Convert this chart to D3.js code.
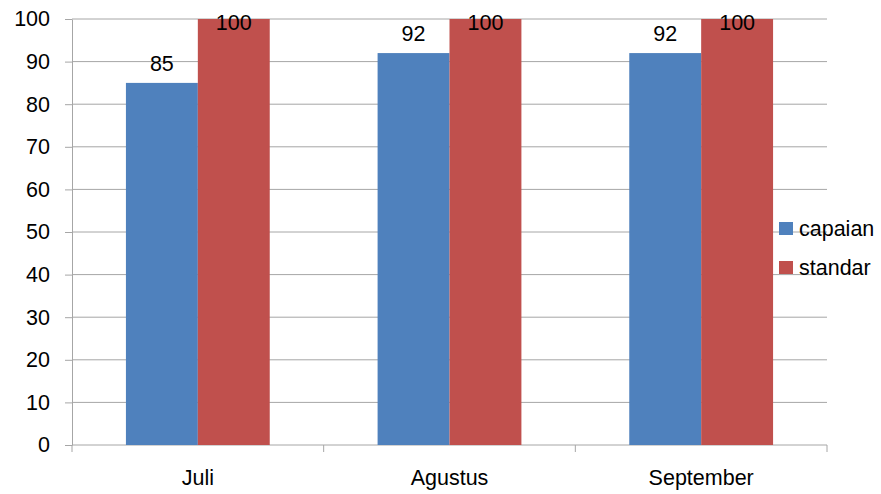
<!DOCTYPE html>
<html>
<head>
<meta charset="utf-8">
<script src="https://cdn.jsdelivr.net/npm/d3@7"></script>
<style>
  html, body { margin: 0; padding: 0; background: #fff; }
  svg text { font-family: "Liberation Sans", Arial, sans-serif; fill: #000; }
</style>
</head>
<body>
<svg id="chart" width="881" height="494"></svg>
<script>
// Monthly achievement vs. standard
const categories = ["Juli", "Agustus", "September"];
const seriesNames = ["capaian", "standar"];
const capaian = [85, 92, 92];
const standar = [100, 100, 100];
const yTicks = [0, 10, 20, 30, 40, 50, 60, 70, 80, 90, 100];
const colors = ["#4F81BD", "#C0504D"];

const seriesValues = [capaian, standar];

const svg = d3.select("#chart");
const plot = { left: 72, right: 827, top: 19, bottom: 445 };
const fontSize = 21.5;

const x = d3.scaleBand().domain(categories).range([plot.left, plot.right]).padding(0);
const y = d3.scaleLinear().domain([0, 100]).range([plot.bottom, plot.top]);

// Bars are 1/3.5 of a category step (150% gap between groups)
const barW = x.step() / 3.5;
const xSub = d3.scaleBand().domain(seriesNames).range([0, 2 * barW]).padding(0);

// Horizontal gridlines
svg.append("g")
  .selectAll("line")
  .data(yTicks.filter(t => t > 0))
  .join("line")
  .attr("x1", plot.left).attr("x2", plot.right)
  .attr("y1", d => y(d)).attr("y2", d => y(d))
  .attr("stroke", "#a6a6a6").attr("stroke-width", 1);

// Y axis
const yAxis = svg.append("g")
  .attr("transform", `translate(${plot.left},0)`)
  .call(d3.axisLeft(y).tickValues(yTicks).tickSize(7).tickPadding(15).tickSizeOuter(0));
yAxis.select(".domain").attr("stroke", "#a6a6a6");
yAxis.selectAll(".tick line").attr("stroke", "#a6a6a6");
yAxis.selectAll(".tick text")
  .attr("font-size", fontSize)
  .style("font-family", '"Liberation Sans", Arial, sans-serif')
  .attr("fill", "#000");

// X axis with boundary ticks between categories
const xAxisG = svg.append("g").attr("transform", `translate(0,${plot.bottom})`);
xAxisG.append("line")
  .attr("x1", plot.left).attr("x2", plot.right)
  .attr("stroke", "#a6a6a6");
const boundaries = categories.map(c => x(c)).concat([x(categories[categories.length - 1]) + x.step()]);
xAxisG.selectAll("line.tick")
  .data(boundaries)
  .join("line")
  .attr("class", "tick")
  .attr("x1", d => d).attr("x2", d => d)
  .attr("y1", 0).attr("y2", 7)
  .attr("stroke", "#a6a6a6");
xAxisG.selectAll("text")
  .data(categories)
  .join("text")
  .attr("x", d => x(d) + x.step() / 2)
  .attr("y", 40)
  .attr("text-anchor", "middle")
  .attr("font-size", fontSize)
  .text(d => d);

// Bars
const groups = svg.append("g")
  .selectAll("g")
  .data(categories)
  .join("g")
  .attr("transform", d => `translate(${x(d) + x.step() / 2 - barW},0)`);

groups.selectAll("rect")
  .data((d, i) => seriesNames.map((s, j) => ({ s, j, v: seriesValues[j][i] })))
  .join("rect")
  .attr("x", d => xSub(d.s))
  .attr("width", xSub.bandwidth())
  .attr("y", d => y(d.v))
  .attr("height", d => y(0) - y(d.v))
  .attr("fill", d => colors[d.j]);

// Value labels (kept inside the plot area when the bar reaches the top)
groups.selectAll("text")
  .data((d, i) => seriesNames.map((s, j) => ({ s, j, v: seriesValues[j][i] })))
  .join("text")
  .attr("x", d => xSub(d.s) + xSub.bandwidth() / 2)
  .attr("y", d => Math.max(y(d.v) - 12, plot.top + 11))
  .attr("text-anchor", "middle")
  .attr("font-size", fontSize)
  .text(d => d.v);

// Legend
const legend = svg.append("g")
  .selectAll("g")
  .data(seriesNames)
  .join("g")
  .attr("transform", (d, i) => `translate(779,${222 + i * 39})`);
legend.append("rect")
  .attr("width", 14).attr("height", 13)
  .attr("fill", (d, i) => colors[i]);
legend.append("text")
  .attr("x", 20).attr("y", 14)
  .attr("font-size", fontSize)
  .text(d => d);
</script>
</body>
</html>
